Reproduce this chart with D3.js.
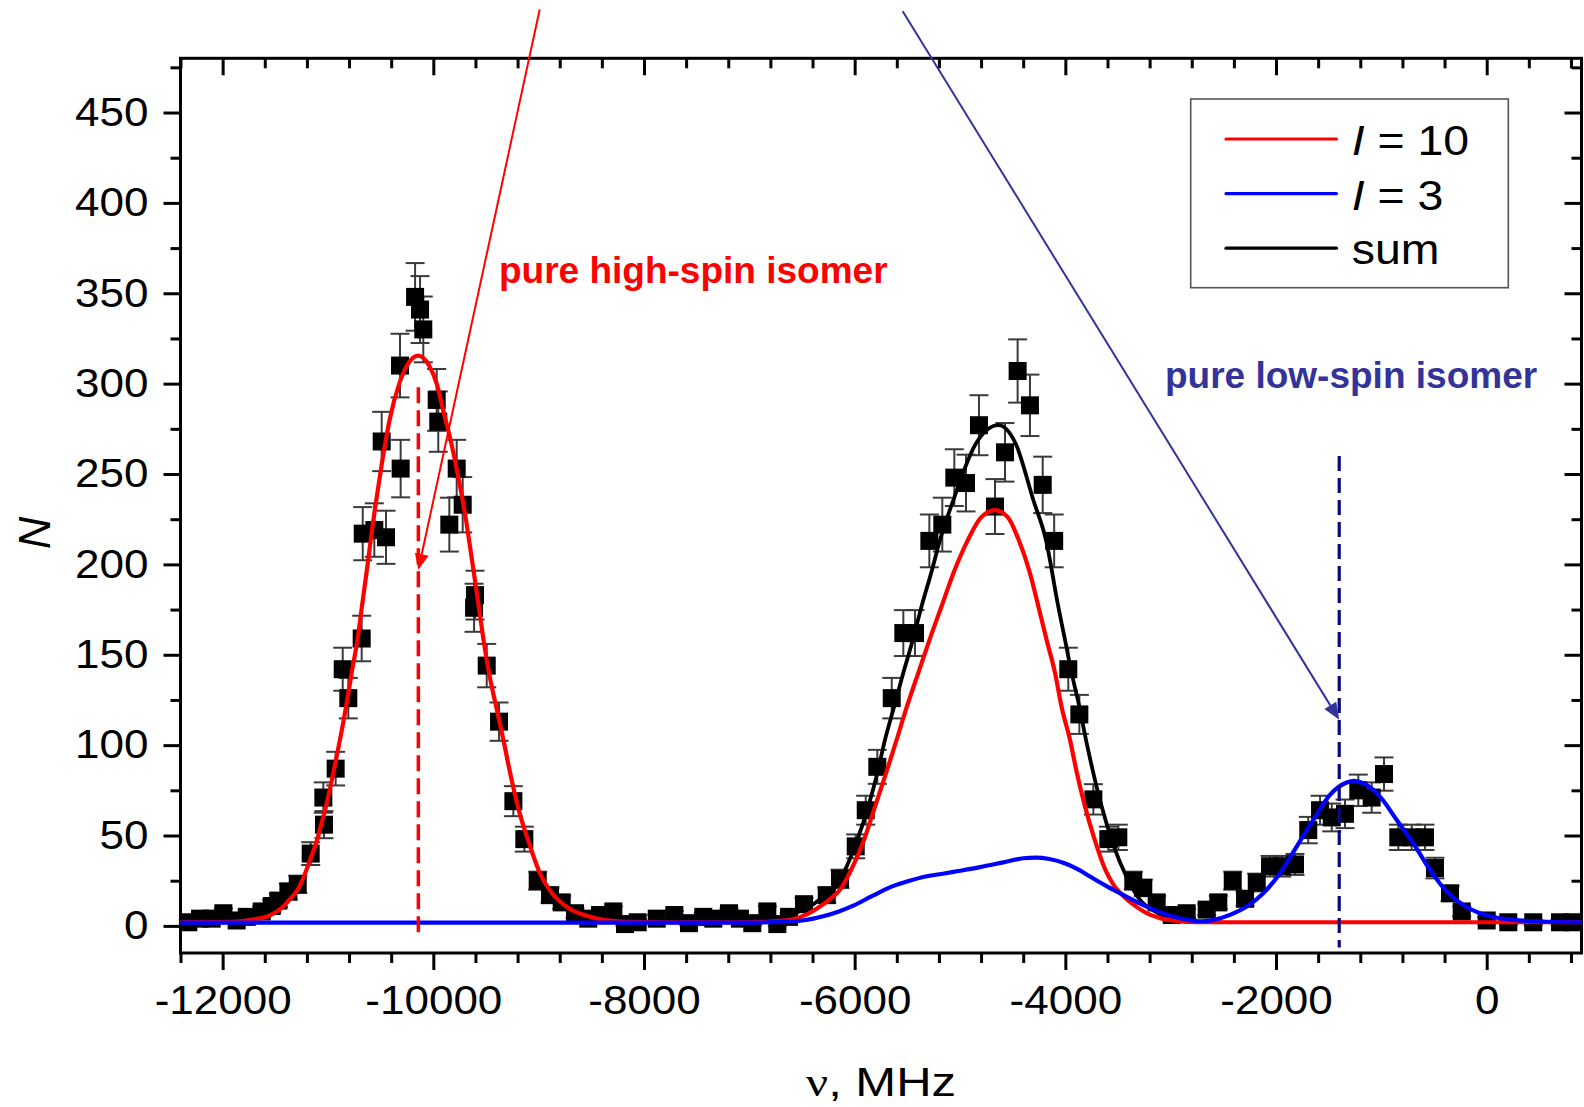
<!DOCTYPE html>
<html>
<head>
<meta charset="utf-8">
<script src="https://cdn.jsdelivr.net/npm/d3@7"></script>
<style>
  html, body { margin: 0; padding: 0; background: #ffffff; }
  svg { display: block; }
  text { font-family: "Liberation Sans", Arial, sans-serif; }
</style>
</head>
<body>
<svg id="chart" width="1584" height="1107"></svg>
<script>
// ---- measured spectrum: frequency offset (MHz), counts, counting error ----
const freqMHz = [
  -12326, -12215, -12104, -11993, -11867, -11771, -11629, -11534, -11471, -11376,
  -11287, -11164, -11044, -11038, -10927, -10860, -10807, -10680, -10670, -10560,
  -10490, -10449, -10316, -10310, -10173, -10126, -10095, -9968, -9953, -9848,
  -9778, -9721, -9613, -9604, -9493, -9376, -9240, -9136, -9009, -8892,
  -8781, -8655, -8529, -8418, -8291, -8180, -8060, -7879, -7712, -7573,
  -7437, -7342, -7193, -7089, -6972, -6829, -6734, -6623, -6481, -6265,
  -6139, -5990, -5895, -5785, -5648, -5538, -5427, -5291, -5168, -5054,
  -4943, -4820, -4668, -4573, -4453, -4336, -4215, -4106, -3972, -3867,
  -3734, -3592, -3497, -3355, -3260, -3133, -2990, -2848, -2658, -2548,
  -2411, -2294, -2183, -2057, -1946, -1820, -1694, -1582, -1471, -1345,
  -1219, -1092, -975, -839, -712, -586, -491, -348, -237, 0,
  205, 442, 696, 822
];
const counts = [
  2, 4, 4, 7, 3, 5, 8, 11, 14, 19,
  23, 40, 71, 56, 87, 142, 126, 159, 217, 219,
  268, 215, 310, 253, 348, 341, 330, 291, 279, 222,
  253, 233, 176, 183, 144, 113, 69, 48, 25, 17,
  13, 7, 4, 6, 8, 1, 2, 4, 6, 1.5,
  5, 4, 7, 4, 1.5, 8, 1, 5, 12, 17,
  26, 44, 64, 88, 126, 162, 162, 213, 222, 248,
  245, 277, 232, 262, 307, 288, 244, 213, 142, 117,
  70, 48, 49, 25, 21, 13, 6, 7, 9, 13,
  25, 15, 24, 33, 33, 34, 53, 64, 60, 62,
  75, 71, 84, 49, 49, 49, 32, 18, 8, 3,
  2, 2, 2, 2
];
const countErr = [
  1.4, 2, 2, 2.6, 1.7, 2.2, 2.8, 3.3, 3.7, 4.4,
  4.8, 6.3, 8.4, 7.5, 9.3, 11.9, 11.2, 12.6, 14.7, 14.8,
  16.4, 14.7, 17.6, 15.9, 18.7, 18.5, 18.2, 17.1, 16.7, 14.9,
  15.9, 15.3, 13.3, 13.5, 12, 10.6, 8.3, 6.9, 5, 4.1,
  3.6, 2.6, 2, 2.4, 2.8, 1, 1.4, 2, 2.4, 1.2,
  2.2, 2, 2.6, 2, 1.2, 2.8, 1, 2.2, 3.5, 4.1,
  5.1, 6.6, 8, 9.4, 11.2, 12.7, 12.7, 14.6, 14.9, 15.7,
  15.7, 16.6, 15.2, 16.2, 17.5, 17, 15.6, 14.6, 11.9, 10.8,
  8.4, 6.9, 7, 5, 4.6, 3.6, 2.4, 2.6, 3, 3.6,
  5, 3.9, 4.9, 5.7, 5.7, 5.8, 7.3, 8, 7.7, 7.9,
  8.7, 8.4, 9.2, 7, 7, 7, 5.7, 4.2, 2.8, 1.7,
  1.4, 1.4, 1.4, 1.4
];

// ---- fitted components, sampled as [MHz, N] ----
const fitI10 = [
  [-12400, 2.0], [-12100, 2.1], [-11867, 2.4], [-11700, 3.6], [-11582, 5.1],
  [-11500, 7.4], [-11424, 10.7], [-11350, 15.5], [-11282, 20.5], [-11218, 29],
  [-11160, 38], [-11101, 48], [-11060, 57], [-11019, 66], [-10950, 84.5],
  [-10886, 103], [-10829, 121], [-10775, 140], [-10721, 158], [-10670, 180],
  [-10626, 199], [-10575, 222], [-10522, 243], [-10474, 261], [-10411, 281],
  [-10323, 300], [-10250, 310], [-10145, 315.5], [-10040, 310], [-9968, 300],
  [-9905, 285], [-9825, 266], [-9762, 248], [-9699, 228], [-9652, 210],
  [-9604, 191], [-9557, 172], [-9515, 155], [-9468, 139], [-9398, 120],
  [-9335, 103], [-9272, 85], [-9193, 65], [-9098, 47], [-8987, 29],
  [-8892, 19.5], [-8734, 10.5], [-8512, 5], [-8228, 2.4], [-7800, 2.0],
  [-7000, 2.0], [-6800, 2.4], [-6614, 3.3], [-6450, 6.5], [-6329, 10.7],
  [-6230, 15], [-6139, 20], [-6050, 29], [-5911, 47.6], [-5807, 66],
  [-5702, 84.5], [-5601, 103], [-5506, 121], [-5396, 140], [-5291, 158],
  [-5174, 177], [-5050, 197], [-4921, 214], [-4800, 226], [-4668, 230],
  [-4545, 226], [-4446, 214], [-4340, 196], [-4257, 177], [-4177, 158],
  [-4098, 140], [-4035, 121], [-3956, 103], [-3892, 85], [-3813, 66],
  [-3718, 47], [-3620, 31], [-3545, 23], [-3450, 16.5], [-3323, 10.5],
  [-3228, 7], [-3100, 4.3], [-2950, 2.8], [-2750, 2.1], [-2400, 2.0],
  [900, 2.0]
];
const fitI3 = [
  [-12400, 1.8], [-7000, 1.8], [-6700, 2.2], [-6500, 3.0], [-6393, 4.0],
  [-6298, 5.3], [-6150, 8], [-6013, 11.2], [-5850, 16], [-5650, 21.7],
  [-5480, 25], [-5315, 27.5], [-5150, 29], [-5031, 30.2], [-4810, 32.5],
  [-4600, 35], [-4400, 37.4], [-4283, 37.8], [-4150, 37], [-4000, 34.5],
  [-3870, 31], [-3766, 27.3], [-3600, 21.7], [-3450, 17.1], [-3228, 10.7],
  [-3050, 6.5], [-2911, 4.2], [-2800, 2.9], [-2722, 2.5], [-2600, 3.2],
  [-2437, 6.1], [-2278, 10.7], [-2121, 18.1], [-1962, 29.1], [-1804, 43.9],
  [-1646, 58.6], [-1488, 72.5], [-1329, 79.3], [-1260, 80.2], [-1171, 78.9],
  [-1013, 71.5], [-854, 58.6], [-697, 45.7], [-538, 31], [-380, 19],
  [-222, 11.6], [-64, 7], [100, 4.5], [253, 3.3], [570, 2.3],
  [900, 2.0]
];
const fitSum = [
  [-7000, 2.0], [-6850, 3.0], [-6677, 5.1], [-6550, 7.5], [-6424, 10.7],
  [-6300, 16], [-6203, 20], [-6108, 29], [-5975, 47.6], [-5871, 66],
  [-5785, 84.5], [-5712, 103], [-5627, 121], [-5538, 140], [-5449, 158],
  [-5364, 177], [-5270, 196], [-5190, 213.5], [-5063, 235.6], [-4850, 266.7],
  [-4636, 277], [-4470, 266.6], [-4304, 235.6], [-4184, 213.5], [-4067, 176.6],
  [-4003, 158.2], [-3940, 139.8], [-3867, 121.3], [-3804, 102.9], [-3734, 84.5],
  [-3655, 66], [-3545, 45], [-3418, 27], [-3291, 14.4], [-3150, 8],
  [-3050, 5.2], [-2950, 3.8], [-2800, 3.0]
];

// ---- axis ticks ----
const xMajorTicks = [-12000, -10000, -8000, -6000, -4000, -2000, 0];
const yMajorTicks = [0, 50, 100, 150, 200, 250, 300, 350, 400, 450];

// ---- legend entries ----
const legendEntries = [
  { symbol: "I", rest: " = 10", color: "#ff0000" },
  { symbol: "I", rest: " = 3", color: "#0000ff" },
  { symbol: "", rest: "sum", color: "#000000" }
];

// ---- marker lines and arrows (data units) ----
const highSpinCentre = { nu: -10142, from: 298, to: -5 };
const lowSpinCentre = { nu: -1400, from: 260, to: -12 };
const highSpinArrow = { from: [-8990, 507], to: [-10142, 197] };
const lowSpinArrow = { from: [-5544, 506], to: [-1400, 114] };

// ---------------------------------------------------------------
const plot = { left: 180.5, right: 1581.5, top: 58.3, bottom: 953 };
const x = d3.scaleLinear().domain([-12400, 900]).range([plot.left, plot.right]);
const y = d3.scaleLinear().domain([-15, 480]).range([plot.bottom, plot.top]);

const svg = d3.select("#chart");
svg.append("rect").attr("width", 1584).attr("height", 1107).attr("fill", "#fff");

const xMinorTicks = d3.range(-12400, 901, 400).filter(v => !xMajorTicks.includes(v));
const yMinorTicks = d3.range(25, 476, 50);

function stretch(sel, k) {
  sel.each(function () {
    const w = this.getComputedTextLength();
    d3.select(this).attr("textLength", w * k).attr("lengthAdjust", "spacingAndGlyphs");
  });
}

function styleAxis(g, withLabels) {
  g.select(".domain").remove();
  g.selectAll(".tick line").attr("stroke", "#000").attr("stroke-width", 3);
  if (withLabels) {
    g.selectAll(".tick text").attr("fill", "#000")
      .attr("font-size", 40).attr("font-family", "'Liberation Sans', Arial, sans-serif");
  } else {
    g.selectAll(".tick text").remove();
  }
}

const axes = svg.append("g");
// bottom
axes.append("g").attr("transform", `translate(0,${plot.bottom})`)
  .call(d3.axisBottom(x).tickValues(xMajorTicks).tickSize(17).tickSizeOuter(0)
    .tickPadding(16).tickFormat(d => String(d)))
  .call(g => styleAxis(g, true));
axes.append("g").attr("transform", `translate(0,${plot.bottom})`)
  .call(d3.axisBottom(x).tickValues(xMinorTicks).tickSize(10).tickSizeOuter(0).tickFormat(""))
  .call(g => styleAxis(g, false));
// top (mirrored, pointing into the frame)
axes.append("g").attr("transform", `translate(0,${plot.top})`)
  .call(d3.axisBottom(x).tickValues(xMajorTicks).tickSize(17).tickSizeOuter(0).tickFormat(""))
  .call(g => styleAxis(g, false));
axes.append("g").attr("transform", `translate(0,${plot.top})`)
  .call(d3.axisBottom(x).tickValues(xMinorTicks).tickSize(10).tickSizeOuter(0).tickFormat(""))
  .call(g => styleAxis(g, false));
// left
axes.append("g").attr("transform", `translate(${plot.left},0)`)
  .call(d3.axisLeft(y).tickValues(yMajorTicks).tickSize(17).tickSizeOuter(0)
    .tickPadding(15).tickFormat(d => String(d)))
  .call(g => styleAxis(g, true));
axes.append("g").attr("transform", `translate(${plot.left},0)`)
  .call(d3.axisLeft(y).tickValues(yMinorTicks).tickSize(10).tickSizeOuter(0).tickFormat(""))
  .call(g => styleAxis(g, false));
// right (mirrored, pointing into the frame)
axes.append("g").attr("transform", `translate(${plot.right},0)`)
  .call(d3.axisLeft(y).tickValues(yMajorTicks).tickSize(17).tickSizeOuter(0).tickFormat(""))
  .call(g => styleAxis(g, false));
axes.append("g").attr("transform", `translate(${plot.right},0)`)
  .call(d3.axisLeft(y).tickValues(yMinorTicks).tickSize(10).tickSizeOuter(0).tickFormat(""))
  .call(g => styleAxis(g, false));

stretch(axes.selectAll(".tick text"), 1.1);

// frame
axes.append("rect")
  .attr("x", plot.left).attr("y", plot.top)
  .attr("width", plot.right - plot.left).attr("height", plot.bottom - plot.top)
  .attr("fill", "none").attr("stroke", "#000").attr("stroke-width", 3);

// axis titles
const xTitle = svg.append("text")
  .attr("x", (plot.left + plot.right) / 2).attr("y", 1096)
  .attr("text-anchor", "middle").attr("font-size", 40).attr("fill", "#000");
xTitle.append("tspan").attr("font-family", "'Liberation Serif', 'DejaVu Serif', serif").text("ν");
xTitle.append("tspan").text(", MHz");
xTitle.attr("textLength", 150).attr("lengthAdjust", "spacingAndGlyphs");

svg.append("text")
  .attr("transform", "translate(50,533) rotate(-90)")
  .attr("text-anchor", "middle").attr("font-size", 45)
  .attr("font-style", "italic").attr("fill", "#000").text("N");

// ---- data points with error bars ----
const points = freqMHz.map((f, i) => ({ f, n: counts[i], e: countErr[i] }));
const pts = svg.append("g");
const capHalf = 9.5, sq = 18;
const bars = pts.append("g").attr("stroke", "#3a3a3a").attr("stroke-width", 2);
points.forEach(p => {
  const cx = x(p.f), y1 = y(p.n + p.e), y0 = y(p.n - p.e);
  bars.append("line").attr("x1", cx).attr("x2", cx).attr("y1", y1).attr("y2", y0);
  bars.append("line").attr("x1", cx - capHalf).attr("x2", cx + capHalf).attr("y1", y1).attr("y2", y1);
  bars.append("line").attr("x1", cx - capHalf).attr("x2", cx + capHalf).attr("y1", y0).attr("y2", y0);
});
pts.append("g").selectAll("rect").data(points).join("rect")
  .attr("x", d => x(d.f) - sq / 2).attr("y", d => y(d.n) - sq / 2)
  .attr("width", sq).attr("height", sq).attr("fill", "#000");

// ---- fitted curves ----
const line = d3.line().x(d => x(d[0])).y(d => y(d[1])).curve(d3.curveMonotoneX);
const curves = svg.append("g").attr("fill", "none").attr("stroke-linejoin", "round");
curves.append("path").attr("d", line(fitSum)).attr("stroke", "#000").attr("stroke-width", 3.8);
curves.append("path").attr("d", line(fitI10)).attr("stroke", "#ff0000").attr("stroke-width", 4.2);
curves.append("path").attr("d", line(fitI3)).attr("stroke", "#0000ff").attr("stroke-width", 4.2);

// ---- centre markers ----
svg.append("line")
  .attr("x1", x(highSpinCentre.nu)).attr("x2", x(highSpinCentre.nu))
  .attr("y1", y(highSpinCentre.from)).attr("y2", y(highSpinCentre.to))
  .attr("stroke", "#ff0000").attr("stroke-width", 3.5).attr("stroke-dasharray", "16 7");
svg.append("line")
  .attr("x1", x(lowSpinCentre.nu)).attr("x2", x(lowSpinCentre.nu))
  .attr("y1", y(lowSpinCentre.from)).attr("y2", y(lowSpinCentre.to))
  .attr("stroke", "#0a0a78").attr("stroke-width", 3.2).attr("stroke-dasharray", "15 7");

// ---- arrows ----
function arrow(spec, color, width, headLen, headHalf) {
  const x1 = x(spec.from[0]), y1 = y(spec.from[1]);
  const x2 = x(spec.to[0]), y2 = y(spec.to[1]);
  const a = Math.atan2(y2 - y1, x2 - x1);
  const bx = x2 - headLen * Math.cos(a), by = y2 - headLen * Math.sin(a);
  svg.append("line").attr("x1", x1).attr("y1", y1).attr("x2", bx).attr("y2", by)
    .attr("stroke", color).attr("stroke-width", width);
  const px = headHalf * Math.sin(a), py = headHalf * Math.cos(a);
  svg.append("polygon")
    .attr("points", [[x2, y2], [bx + px, by - py], [bx - px, by + py]].map(p => p.join(",")).join(" "))
    .attr("fill", color);
}
arrow(highSpinArrow, "#ff0000", 2, 16, 7);
arrow(lowSpinArrow, "#333399", 2, 17, 7);

// ---- annotations ----
svg.append("text").attr("x", 499).attr("y", 283)
  .attr("font-size", 37).attr("font-weight", "bold").attr("fill", "#ff0000")
  .text("pure high-spin isomer");
svg.append("text").attr("x", 1165).attr("y", 388)
  .attr("font-size", 37).attr("font-weight", "bold").attr("fill", "#333399")
  .text("pure low-spin isomer");

// ---- legend ----
const legend = svg.append("g");
legend.append("rect").attr("x", 1190.7).attr("y", 99).attr("width", 317.6).attr("height", 188.7)
  .attr("fill", "#fff").attr("stroke", "#555").attr("stroke-width", 1.6);
legendEntries.forEach((d, i) => {
  const ly = 139 + i * 54.6;
  legend.append("line").attr("x1", 1226).attr("x2", 1336.5).attr("y1", ly).attr("y2", ly)
    .attr("stroke", d.color).attr("stroke-width", 3.2).attr("stroke-linecap", "round");
  const t = legend.append("text").attr("x", 1351.7).attr("y", ly + 16)
    .attr("font-size", 43).attr("fill", "#000");
  if (d.symbol) t.append("tspan").attr("font-style", "italic").text(d.symbol);
  t.append("tspan").text(d.rest);
  stretch(t, 1.08);
});
</script>
</body>
</html>
